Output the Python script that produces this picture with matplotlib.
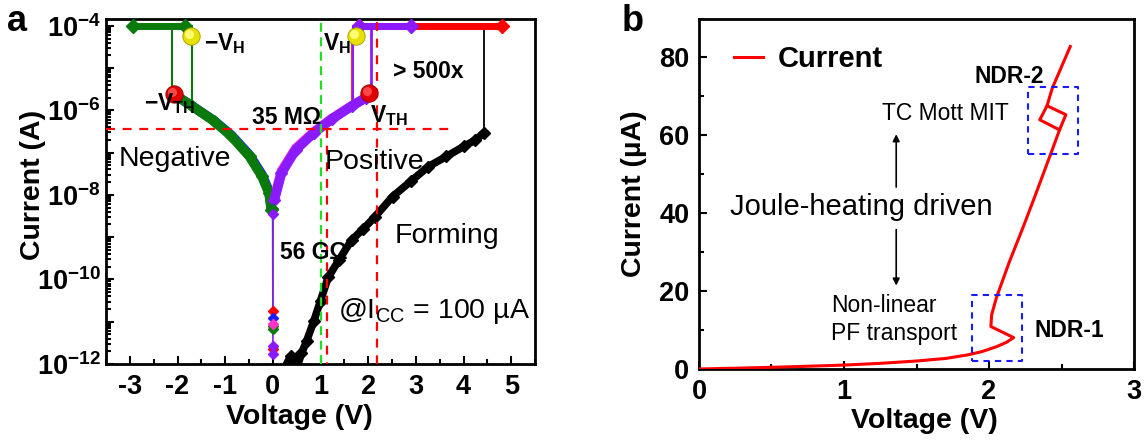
import matplotlib
matplotlib.use('Agg')
import matplotlib.pyplot as plt
import matplotlib.transforms as mtransforms
from matplotlib.ticker import FixedLocator, FuncFormatter, MultipleLocator, LogLocator, NullFormatter
import numpy as np

plt.rcParams['font.family'] = ['Liberation Sans', 'DejaVu Sans']
plt.rcParams['mathtext.fontset'] = 'custom'
plt.rcParams['mathtext.rm'] = 'Liberation Sans'
plt.rcParams['mathtext.it'] = 'Liberation Sans:italic'
plt.rcParams['mathtext.bf'] = 'Liberation Sans:bold'

# ---------------- Panel a data (voltage, log10 of current) ----------------
forming_V = [0.20, 0.37, 0.50, 0.60, 0.71, 0.86, 1.00, 1.16, 1.38, 1.65, 1.90, 2.14,
             2.51, 2.89, 3.26, 3.64, 4.01, 4.25, 4.43]
forming_logI = [-12.2, -11.82, -12.1, -11.75, -11.45, -10.98, -10.50, -9.95, -9.55, -9.07,
                -8.80, -8.52, -8.04, -7.68, -7.33, -7.09, -6.85, -6.70, -6.53]
forming_jump_V = [4.43, 4.43]
forming_jump_logI = [-6.53, -4.0]

neg_V = [-0.03, -0.08, -0.23, -0.49, -0.87, -1.24, -1.69, -2.08]
neg_green_logI = [-8.36, -7.96, -7.56, -7.09, -6.61, -6.25, -5.90, -5.62]
neg_blue_logI = [-8.32, -7.92, -7.52, -7.06, -6.59, -6.24, -5.90, -5.62]
neg_set_V = [-2.12, -2.12]
neg_set_logI = [-5.62, -4.0]
neg_on_V = [-2.93, -1.85]
neg_reset_V = [-1.70, -1.70]
neg_reset_logI = [-4.0, -5.88]

pos_V = [0.03, 0.18, 0.48, 0.86, 1.23, 1.65, 1.95, 2.02]
pos_purple_logI = [-8.12, -7.48, -6.93, -6.53, -6.21, -5.90, -5.70, -5.58]
pos_magenta_logI = [-8.08, -7.44, -6.90, -6.51, -6.20, -5.90, -5.70, -5.58]
pos_set_V = [2.06, 2.06]
pos_set_logI = [-5.58, -4.0]
pos_on_V = [1.80, 2.90]
red_on_V = [1.80, 4.80]
pos_reset_V = [1.69, 1.69]
pos_reset_logI = [-4.0, -5.85]
red_reset_V = [1.65, 1.65]
red_reset_logI = [-4.2, -5.90]
compliance_logI = -4.0

dip_green_V = [-0.03, -0.005, 0.0]
dip_green_logI = [-8.36, -8.60, -11.17]
dip_purple_V = [0.03, 0.005, 0.0]
dip_purple_logI = [-8.12, -8.45, -11.76]
zero_red_logI = [-10.74, -11.65]
zero_blue_logI = [-10.90, -8.34]
zero_green_logI = [-11.10, -11.17, -8.34]
zero_magenta_logI = [-11.05]
zero_purple_logI = [-11.57, -11.76, -8.45]

vth_V = [-2.08, 2.02]
vth_logI = [-5.62, -5.58]
vh_V = [-1.72, 1.74]
vh_logI = [-4.24, -4.24]

hline_logI = -6.43
hline_V = [-3.5, 3.8]
green_vline_V = 1.0
red_vline1_V = 1.13
red_vline2_V = 2.18

a_xticks = [-3, -2, -1, 0, 1, 2, 3, 4, 5]
a_yexp = [-12, -10, -8, -6, -4]

# ---------------- Panel b data (voltage V, current uA) ----------------
b_V = [0.0, 0.25, 0.5, 0.75, 1.0, 1.25, 1.5, 1.7, 1.85, 1.95, 2.05, 2.12, 2.17,
       2.013, 2.018, 2.05, 2.137, 2.237, 2.324, 2.436, 2.486, 2.53, 2.40, 2.436, 2.56]
b_I = [0.0, 0.2, 0.43, 0.7, 1.0, 1.45, 2.05, 2.7, 3.6, 4.45, 5.7, 6.85, 8.05,
       10.9, 13.9, 18.2, 27.2, 36.6, 45.1, 56.3, 61.4, 65.3, 67.6, 72.1, 82.8]
ndr2_branch_V = [2.486, 2.35, 2.40]
ndr2_branch_I = [61.4, 64.0, 67.6]
ndr1_box_V = [1.88, 2.227]
ndr1_box_I = [2.1, 19.0]
ndr2_box_V = [2.267, 2.615]
ndr2_box_I = [55.3, 72.3]
b_xticks = [0, 1, 2, 3]
b_yticks = [0, 20, 40, 60, 80]


def p10(v):
    return np.power(10.0, np.asarray(v, dtype=float))


fig = plt.figure(figsize=(11.44, 4.41), dpi=100)
axa = fig.add_axes([0.0927, 0.1746, 0.3750, 0.7812])
axb = fig.add_axes([0.6110, 0.1633, 0.3803, 0.7947])

GREEN = '#0a7a0a'
PURPLE = '#8c1aff'
BLUE = '#1a1aff'
MAGENTA = '#ff33cc'
RED = '#ff0000'

# ---- Panel a ----
ax = axa
ax.set_yscale('log')
# forming
ax.plot(forming_V, p10(forming_logI), color='black', lw=5.5, marker='D', ms=6.5,
        solid_capstyle='round', solid_joinstyle='round', zorder=3)
ax.plot(forming_jump_V, p10(forming_jump_logI), color='black', lw=1.3, zorder=3)
# compliance bands
ax.plot(red_on_V, p10([compliance_logI] * 2), color=RED, lw=5, marker='D', ms=7, zorder=4)
ax.plot(pos_on_V, p10([compliance_logI] * 2), color=PURPLE, lw=5, marker='D', ms=7, zorder=5)
ax.plot(neg_on_V, p10([compliance_logI] * 2), color=GREEN, lw=5, marker='D', ms=7, zorder=5)
# negative sweeps
ax.plot(neg_V, p10(neg_blue_logI), color=BLUE, lw=7, solid_capstyle='round', zorder=4)
ax.plot(neg_V, p10(neg_green_logI), color=GREEN, lw=7, marker='D', ms=6,
        solid_capstyle='round', solid_joinstyle='round', zorder=5)
ax.plot(neg_set_V, p10(neg_set_logI), color=GREEN, lw=1.5, zorder=5)
ax.plot(neg_reset_V, p10(neg_reset_logI), color=GREEN, lw=1.5, zorder=5)
# positive sweeps
ax.plot(pos_V, p10(pos_magenta_logI), color=MAGENTA, lw=7, solid_capstyle='round', zorder=4)
ax.plot(pos_V, p10(pos_purple_logI), color=PURPLE, lw=7, marker='D', ms=6,
        solid_capstyle='round', solid_joinstyle='round', zorder=5)
ax.plot(pos_set_V, p10(pos_set_logI), color=PURPLE, lw=2, zorder=5)
ax.plot(red_reset_V, p10(red_reset_logI), color=RED, lw=1.2, zorder=4)
ax.plot(pos_reset_V, p10(pos_reset_logI), color=PURPLE, lw=1.5, zorder=5)
# dips at zero bias
ax.plot(dip_green_V, p10(dip_green_logI), color=GREEN, lw=1.2, zorder=5)
ax.plot(dip_purple_V, p10(dip_purple_logI), color=PURPLE, lw=1.2, zorder=5)
for vals, c in [(zero_red_logI, RED), (zero_blue_logI, BLUE), (zero_green_logI, GREEN),
                (zero_magenta_logI, MAGENTA), (zero_purple_logI, PURPLE)]:
    ax.plot([0.0] * len(vals), p10(vals), 'D', color=c, ms=5, zorder=6)

# dashed guide lines
ax.plot(hline_V, p10([hline_logI] * 2), color=RED, lw=1.6, dashes=(4, 3.5), zorder=8)
ax.axvline(green_vline_V, color='#22dd22', lw=1.6, dashes=(4, 2.5), zorder=8)
ax.plot([red_vline1_V] * 2, p10([hline_logI, -12.5]), color=RED, lw=1.6, dashes=(4, 3.5), zorder=8)
ax.plot([red_vline2_V] * 2, p10([-3.9, -12.5]), color=RED, lw=1.6, dashes=(4, 3.5), zorder=8)


def ball(axx, x, y, color, dark, light):
    axx.plot([x], [y], 'o', ms=12.5, mfc=color, mec=dark, mew=0.6, zorder=10)
    tr = mtransforms.offset_copy(axx.transData, fig=fig, x=-1.5, y=1.5, units='points')
    axx.plot([x], [y], 'o', ms=6.5, mfc=light, mec='none', alpha=0.9, transform=tr, zorder=11)


for x, y in zip(vth_V, p10(vth_logI)):
    ball(ax, x, y, '#e00000', '#900000', '#ff5050')
for x, y in zip(vh_V, p10(vh_logI)):
    ball(ax, x, y, '#e8e000', '#a09a00', '#ffff80')

ax.set_xlim(-3.5, 5.5)
ax.set_ylim(1e-12, 10 ** -3.85)
ax.xaxis.set_major_locator(FixedLocator(a_xticks))
ax.set_xticklabels([str(v) for v in a_xticks])
ax.xaxis.set_minor_locator(MultipleLocator(0.5))
ax.yaxis.set_major_locator(LogLocator(base=10, numticks=30))
ax.yaxis.set_major_formatter(FuncFormatter(
    lambda v, pos: (r'$\mathbf{10^{%d}}$' % int(round(np.log10(v))))
    if int(round(np.log10(v))) in a_yexp else ''))
ax.yaxis.set_minor_locator(LogLocator(base=10, subs=np.arange(2, 10), numticks=30))
ax.yaxis.set_minor_formatter(NullFormatter())

ax.set_xlabel('Voltage (V)', fontsize=20.5, fontweight='bold')
ax.set_ylabel('Current (A)', fontsize=20.5, fontweight='bold')
ax.xaxis.set_label_coords(0.45, -0.115)
ax.yaxis.set_label_coords(-0.14, 0.52)

bold16 = dict(fontsize=16.5, fontweight='bold', va='center', ha='left', zorder=12)
ax.text(-1.45, 10 ** -4.43, r'$\mathbf{-V_H}$', **bold16)
ax.text(-2.71, 10 ** -5.85, r'$\mathbf{-V_{TH}}$', **bold16)
ax.text(1.06, 10 ** -4.43, r'$\mathbf{V_H}$', **bold16)
ax.text(2.03, 10 ** -6.13, r'$\mathbf{V_{TH}}$', **bold16)
ax.text(2.52, 10 ** -5.07, '> 500x', **bold16)
ax.text(-0.44, 10 ** -6.17, '35 M\u03a9', **bold16)
ax.text(0.14, 10 ** -9.36, '56 G\u03a9', **bold16)
norm20 = dict(fontsize=20.5, va='center', ha='left', zorder=12)
ax.text(-3.23, 10 ** -7.15, 'Negative', **norm20)
ax.text(1.09, 10 ** -7.23, 'Positive', **norm20)
ax.text(2.56, 10 ** -8.97, 'Forming', **norm20)
ax.text(1.36, 10 ** -10.74, '@I$_{\\mathregular{CC}}$ = 100 \u00b5A', **norm20)

# ---- Panel b ----
ax = axb
ax.plot(b_V, b_I, color=RED, lw=2.2, zorder=5, label='Current')
ax.plot(ndr2_branch_V, ndr2_branch_I, color=RED, lw=2.2, zorder=5)
for bv, bi in [(ndr1_box_V, ndr1_box_I), (ndr2_box_V, ndr2_box_I)]:
    ax.plot([bv[0], bv[1], bv[1], bv[0], bv[0]], [bi[0], bi[0], bi[1], bi[1], bi[0]],
            color=BLUE, lw=1.5, dashes=(3, 2.5), zorder=6)
ax.set_xlim(0, 3)
ax.set_ylim(0, 90)
ax.xaxis.set_major_locator(FixedLocator(b_xticks))
ax.xaxis.set_minor_locator(MultipleLocator(0.5))
ax.yaxis.set_major_locator(FixedLocator(b_yticks))
ax.yaxis.set_minor_locator(MultipleLocator(10))
ax.set_xlabel('Voltage (V)', fontsize=20.5, fontweight='bold')
ax.set_ylabel('Current (\u00b5A)', fontsize=20.5, fontweight='bold')
ax.xaxis.set_label_coords(0.519, -0.11)
ax.yaxis.set_label_coords(-0.12, 0.5)
leg = ax.legend(loc='upper left', bbox_to_anchor=(0.02, 1.0), frameon=False,
                prop=dict(size=21, weight='bold'), handlelength=1.0, handletextpad=0.5)
ax.text(1.897, 75.1, 'NDR-2', fontsize=16.5, fontweight='bold', va='center', ha='left')
ax.text(2.317, 10.0, 'NDR-1', fontsize=16.5, fontweight='bold', va='center', ha='left')
ax.text(1.263, 65.5, 'TC Mott MIT', fontsize=16.5, va='center', ha='left')
ax.text(0.211, 41.7, 'Joule-heating driven', fontsize=21, va='center', ha='left')
ax.text(0.912, 16.4, 'Non-linear', fontsize=16.5, va='center', ha='left')
ax.text(0.912, 9.2, 'PF transport', fontsize=16.5, va='center', ha='left')
ax.annotate('', xy=(1.36, 61.0), xytext=(1.36, 46.0),
            arrowprops=dict(arrowstyle='-|>', color='black', lw=1.2, mutation_scale=10))
ax.annotate('', xy=(1.36, 20.7), xytext=(1.36, 36.5),
            arrowprops=dict(arrowstyle='-|>', color='black', lw=1.2, mutation_scale=10))

for axx in (axa, axb):
    for s in axx.spines.values():
        s.set_linewidth(2.0)
    axx.tick_params(which='both', direction='in', width=1.5, top=False, right=False)
    axx.tick_params(which='major', length=6, labelsize=19.5, pad=7)
    axx.tick_params(which='minor', length=3.5)
    for lab in axx.get_xticklabels() + axx.get_yticklabels():
        lab.set_fontweight('bold')
axa.tick_params(axis='y', which='major', pad=4)

fig.text(0.006, 0.93, 'a', fontsize=26, fontweight='bold', va='baseline', ha='left')
fig.text(0.543, 0.93, 'b', fontsize=26, fontweight='bold', va='baseline', ha='left')

fig.savefig('out.png', dpi=100)
